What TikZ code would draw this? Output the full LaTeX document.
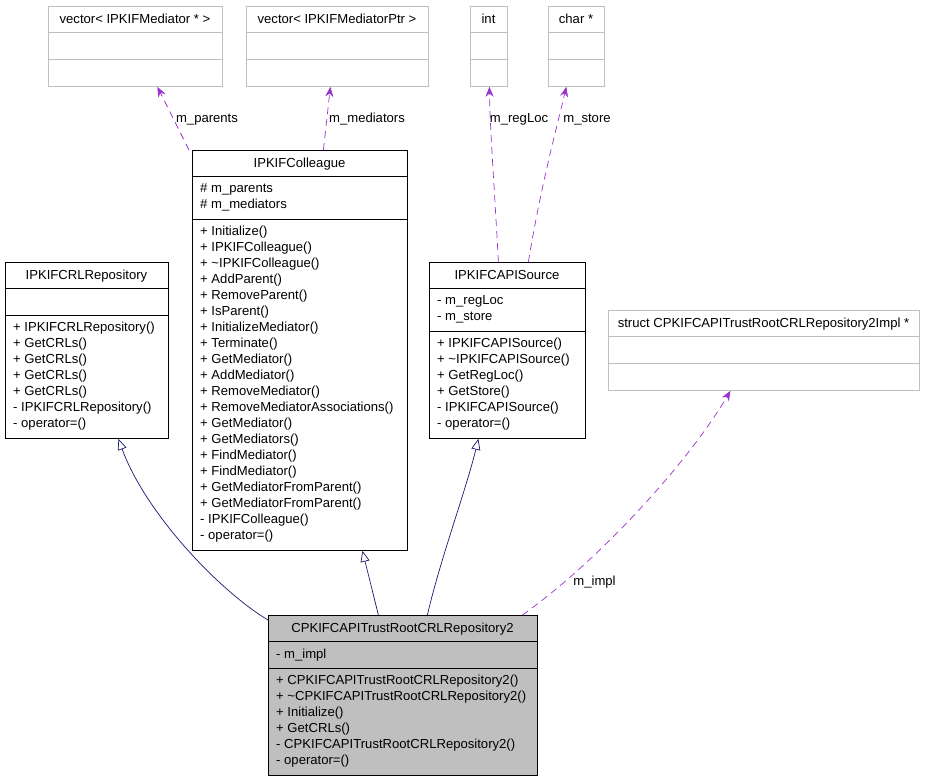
\documentclass[tikz,border=0pt]{standalone}
\usepackage{fontspec}
\setmainfont{Liberation Sans}
\usetikzlibrary{arrows.meta,calc}
\definecolor{navyc}{RGB}{25,25,112}
\definecolor{purc}{RGB}{154,50,205}
\definecolor{grayb}{RGB}{191,191,191}
\newcommand{\dxfont}{\fontsize{13.1}{16}\selectfont}
\tikzset{
 cls/.style={draw=black, line width=0.8pt, inner sep=0pt, anchor=north west},
 ext/.style={draw=grayb, line width=0.8pt, inner sep=0pt, anchor=north west},
 divb/.style={draw=black, line width=0.8pt},
 divg/.style={draw=grayb, line width=0.8pt},
 txt/.style={anchor=base west, inner sep=0pt, font=\dxfont},
 ttl/.style={anchor=base, inner sep=0pt, font=\dxfont},
 inh/.style={draw=navyc, line width=0.7pt, -{Triangle[open, length=11pt, width=9pt]}},
 use/.style={draw=purc, line width=0.7pt, dash pattern=on 7pt off 5pt, -{Stealth[length=10pt, width=8pt]}},
}
\begin{document}
\begin{tikzpicture}[x=1pt,y=-1pt]
\fill[white] (0,0) rectangle (925,779);
\useasboundingbox (0,0) rectangle (925,779);

% external types
\node[ext, minimum width=174pt, minimum height=80pt] (vec1) at (48,6) {};
\draw[divg] ([yshift=-26pt]vec1.north west) -- ([yshift=-26pt]vec1.north east);
\draw[divg] ([yshift=-53pt]vec1.north west) -- ([yshift=-53pt]vec1.north east);
\node[ttl] (vec1t) at (135,23.5) {vector< IPKIFMediator * >};

\node[ext, minimum width=182pt, minimum height=80pt] (vec2) at (246,6) {};
\draw[divg] ([yshift=-26pt]vec2.north west) -- ([yshift=-26pt]vec2.north east);
\draw[divg] ([yshift=-53pt]vec2.north west) -- ([yshift=-53pt]vec2.north east);
\node[ttl] (vec2t) at (337,23.5) {vector< IPKIFMediatorPtr >};

\node[ext, minimum width=37pt, minimum height=80pt] (int) at (470,6) {};
\draw[divg] ([yshift=-26pt]int.north west) -- ([yshift=-26pt]int.north east);
\draw[divg] ([yshift=-53pt]int.north west) -- ([yshift=-53pt]int.north east);
\node[ttl] (intt) at (488.5,23.5) {int};

\node[ext, minimum width=56pt, minimum height=80pt] (char) at (548,6) {};
\draw[divg] ([yshift=-26pt]char.north west) -- ([yshift=-26pt]char.north east);
\draw[divg] ([yshift=-53pt]char.north west) -- ([yshift=-53pt]char.north east);
\node[ttl] (chart) at (576,23.5) {char *};

\node[ext, minimum width=311pt, minimum height=80pt] (struct) at (608,310) {};
\draw[divg] ([yshift=-26pt]struct.north west) -- ([yshift=-26pt]struct.north east);
\draw[divg] ([yshift=-53pt]struct.north west) -- ([yshift=-53pt]struct.north east);
\node[ttl] (structt) at (763.5,327.5) {struct CPKIFCAPITrustRootCRLRepository2Impl *};

% IPKIFColleague
\node[cls, minimum width=215pt, minimum height=400pt] (coll) at (192,150) {};
\draw[divb] ([yshift=-26pt]coll.north west) -- ([yshift=-26pt]coll.north east);
\draw[divb] ([yshift=-69pt]coll.north west) -- ([yshift=-69pt]coll.north east);
\node[ttl] (collt) at (299.5,167.5) {IPKIFColleague};
\node[txt] (colla1) at (200,192.5) {\# m\_parents};
\node[txt] (colla2) at (200,208.5) {\# m\_mediators};
\foreach [count=\i] \t in {+ Initialize(), + IPKIFColleague(), + \textasciitilde IPKIFColleague(), + AddParent(), + RemoveParent(), + IsParent(), + InitializeMediator(), + Terminate(), + GetMediator(), + AddMediator(), + RemoveMediator(), + RemoveMediatorAssociations(), + GetMediator(), + GetMediators(), + FindMediator(), + FindMediator(), + GetMediatorFromParent(), + GetMediatorFromParent(), - IPKIFColleague(), - operator=()}
  \node[txt] (collm\i) at (200,{235+16*(\i-1)}) {\t};

% IPKIFCRLRepository
\node[cls, minimum width=163pt, minimum height=176pt] (crl) at (5,262) {};
\draw[divb] ([yshift=-26pt]crl.north west) -- ([yshift=-26pt]crl.north east);
\draw[divb] ([yshift=-53pt]crl.north west) -- ([yshift=-53pt]crl.north east);
\node[ttl] (crlt) at (86.5,279.5) {IPKIFCRLRepository};
\foreach [count=\i] \t in {+ IPKIFCRLRepository(), + GetCRLs(), + GetCRLs(), + GetCRLs(), + GetCRLs(), - IPKIFCRLRepository(), - operator=()}
  \node[txt] (crlm\i) at (13,{331+16*(\i-1)}) {\t};

% IPKIFCAPISource
\node[cls, minimum width=156pt, minimum height=176pt] (capi) at (429,262) {};
\draw[divb] ([yshift=-26pt]capi.north west) -- ([yshift=-26pt]capi.north east);
\draw[divb] ([yshift=-69pt]capi.north west) -- ([yshift=-69pt]capi.north east);
\node[ttl] (capit) at (507,279.5) {IPKIFCAPISource};
\node[txt] (capia1) at (437,304) {- m\_regLoc};
\node[txt] (capia2) at (437,320) {- m\_store};
\foreach [count=\i] \t in {+ IPKIFCAPISource(), + \textasciitilde IPKIFCAPISource(), + GetRegLoc(), + GetStore(), - IPKIFCAPISource(), - operator=()}
  \node[txt] (capim\i) at (437,{347+16*(\i-1)}) {\t};

% main class
\node[cls, fill=grayb, minimum width=269pt, minimum height=160pt] (main) at (268,615) {};
\draw[divb] ([yshift=-26pt]main.north west) -- ([yshift=-26pt]main.north east);
\draw[divb] ([yshift=-53pt]main.north west) -- ([yshift=-53pt]main.north east);
\node[ttl] (maint) at (402.5,632.5) {CPKIFCAPITrustRootCRLRepository2};
\node[txt] (maina1) at (276,658) {- m\_impl};
\foreach [count=\i] \t in {+ CPKIFCAPITrustRootCRLRepository2(), + \textasciitilde CPKIFCAPITrustRootCRLRepository2(), + Initialize(), + GetCRLs(), - CPKIFCAPITrustRootCRLRepository2(), - operator=()}
  \node[txt] (mainm\i) at (276,{684+16*(\i-1)}) {\t};

% inheritance
\draw[inh] ([yshift=-5pt]main.north west) .. controls (218,590) and (145,512) .. ([xshift=31.5pt]crl.south);
\draw[inh] ([xshift=-24.5pt]main.north) -- ([xshift=62.5pt]coll.south);
\draw[inh] ([xshift=24.5pt]main.north) .. controls (440,560) and (466,490) .. ([xshift=-29pt]capi.south);

% usage
\draw[use] ([xshift=119.5pt]main.north) .. controls (600,560) and (690,460) .. ([xshift=-33.5pt]struct.south);
\draw[use] ([xshift=-3pt]coll.north west) -- ([xshift=22pt]vec1.south);
\draw[use] ([xshift=23.5pt]coll.north) -- ([xshift=-7pt]vec2.south);
\draw[use] ([xshift=-9pt]capi.north) .. controls (494,180) and (490,130) .. ([xshift=0.5pt]int.south);
\draw[use] ([xshift=21pt]capi.north) .. controls (540,190) and (556,130) .. ([xshift=-10pt]char.south);

% labels
\node[ttl] (lpar) at (207,122) {m\_parents};
\node[ttl] (lmed) at (367,122) {m\_mediators};
\node[ttl] (lreg) at (519,122) {m\_regLoc};
\node[ttl] (lsto) at (587,122) {m\_store};
\node[ttl] (limp) at (594.5,585) {m\_impl};
\end{tikzpicture}
\end{document}
